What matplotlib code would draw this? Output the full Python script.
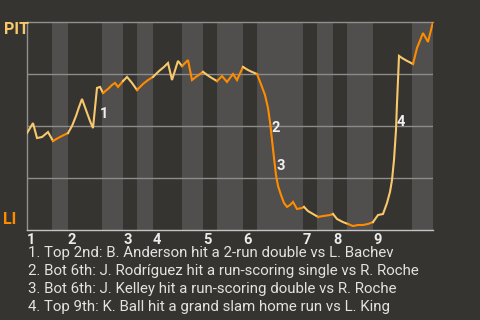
import matplotlib
matplotlib.use("Agg")
import matplotlib.pyplot as plt

BG = "#363430"
STRIPE = "#504f4d"
PIT_COLOR = "#f7c86c"
LI_COLOR = "#ff8c00"
TEXT = "#e2e2e2"

# game progress (plays) and PIT win probability (%)
progress = [0, 6, 10, 15, 21, 26, 31, 37, 41, 45, 49, 52, 55, 59, 63, 66, 70, 73, 76, 81,
            85, 88, 91, 96, 100, 105, 110, 116, 121, 126, 132, 137, 141, 145, 151, 155, 161, 165,
            169, 176, 183, 190, 195, 200, 206, 210, 216, 221, 225, 230, 235, 238, 241, 243, 245,
            247, 249, 251, 254, 257, 260, 263, 266, 270, 275, 277, 281, 286, 291, 296, 303, 306,
            310, 316, 321, 326, 331, 336, 341, 346, 351, 356, 360, 363, 365, 367, 369, 370, 371,
            372, 375, 380, 386, 390, 396, 401, 406]
pit_wp = [46.6, 51.4, 44.2, 44.7, 47.1, 42.8, 44.2, 45.7, 46.6, 50.0, 54.8, 59.1, 63.0, 57.7,
          52.4, 49.0, 68.3, 68.8, 65.9, 67.8, 69.7, 70.7, 68.8, 71.6, 73.6, 70.7, 67.3, 70.2,
          72.1, 73.6, 76.4, 78.4, 80.3, 72.1, 81.3, 78.8, 81.7, 72.1, 73.6, 76.0, 73.6, 71.6,
          74.0, 71.2, 75.0, 72.1, 78.4, 76.9, 76.0, 75.0, 68.8, 64.9, 58.7, 51.9, 43.3, 34.6,
          26.4, 21.2, 16.8, 13.0, 11.1, 12.0, 13.5, 10.1, 10.6, 11.1, 9.1, 7.7, 6.3, 6.7, 7.2,
          7.7, 5.3, 3.8, 2.9, 1.9, 2.4, 2.4, 2.9, 3.8, 7.2, 7.7, 13.0, 18.3, 24.0, 33.7, 48.1,
          61.1, 72.1, 83.7, 82.7, 81.3, 79.8, 87.5, 94.7, 90.4, 100.0]

half_starts = [0, 25, 41, 75, 96, 110, 126, 155, 176, 190, 216, 230, 276, 290, 306, 320, 346, 385]
game_end = 406
inning_labels = ["1", "2", "3", "4", "5", "6", "7", "8", "9"]

event_x = [77, 249, 254, 374]
event_wp = [55.8, 49.0, 30.8, 51.9]
events = [
    "1. Top 2nd: B. Anderson hit a 2-run double vs L. Bachev",
    "2. Bot 6th: J. Rodríguez hit a run-scoring single vs R. Roche",
    "3. Bot 6th: J. Kelley hit a run-scoring double vs R. Roche",
    "4. Top 9th: K. Ball hit a grand slam home run vs L. King",
]

plt.rcParams["font.family"] = ["Roboto", "DejaVu Sans"]


def half_of(x):
    h = 0
    for i, s in enumerate(half_starts):
        if x >= s:
            h = i
    return h


fig = plt.figure(figsize=(4.8, 3.2), dpi=100, facecolor=BG)
ax = fig.add_axes([27 / 480, 90 / 320, 406 / 480, 208 / 320])
ax.set_facecolor(BG)
ax.set_xlim(0, game_end)
ax.set_ylim(0, 100)

bounds = half_starts + [game_end]
for i in range(1, len(half_starts), 2):
    ax.axvspan(bounds[i], bounds[i + 1], color=STRIPE, lw=0, zorder=0)
for g in (25, 50, 75):
    ax.axhline(g, color="#8c8c8c", lw=1, zorder=1)

# line coloured by half inning (top = PIT batting, bottom = LI batting)
run_x, run_y = [progress[0]], [pit_wp[0]]
cur = half_of(progress[0]) % 2
for i in range(1, len(progress)):
    h = half_of(progress[i - 1]) % 2
    if h != cur:
        ax.plot(run_x, run_y, color=PIT_COLOR if cur == 0 else LI_COLOR, lw=1.5, zorder=3,
                solid_joinstyle="miter")
        run_x, run_y = [progress[i - 1]], [pit_wp[i - 1]]
        cur = h
    run_x.append(progress[i])
    run_y.append(pit_wp[i])
ax.plot(run_x, run_y, color=PIT_COLOR if cur == 0 else LI_COLOR, lw=1.5, zorder=3,
        solid_joinstyle="miter")

for n, (x, y) in enumerate(zip(event_x, event_wp)):
    ax.text(x, y, str(n + 1), color="#f0f0f0", fontsize=10.5, fontweight="bold",
            ha="center", va="center", zorder=4)

for side in ("left", "top"):
    ax.spines[side].set_color("#909090")
    ax.spines[side].set_linewidth(1)
ax.spines["bottom"].set_color("#c4c4c4")
ax.spines["bottom"].set_linewidth(1)
ax.spines["right"].set_visible(False)

ax.set_yticks([])
ax.set_xticks(half_starts[::2])
ax.set_xticklabels(inning_labels, ha="left", color="#ececec", fontsize=10.5, fontweight="bold")
ax.tick_params(axis="x", length=0, pad=2)

fig.text(4 / 480, 1 - 29 / 320, "PIT", color=PIT_COLOR, fontsize=11.5, fontweight="bold",
         va="center", ha="left")
fig.text(3 / 480, 1 - 219 / 320, "LI", color=LI_COLOR, fontsize=11.5, fontweight="bold",
         va="center", ha="left")

for k, line in enumerate(events):
    fig.text(28 / 480, 1 - (253 + 18 * k) / 320, line, color=TEXT, fontsize=10.8,
             va="center", ha="left")

fig.savefig("out.png", dpi=100, facecolor=BG)
